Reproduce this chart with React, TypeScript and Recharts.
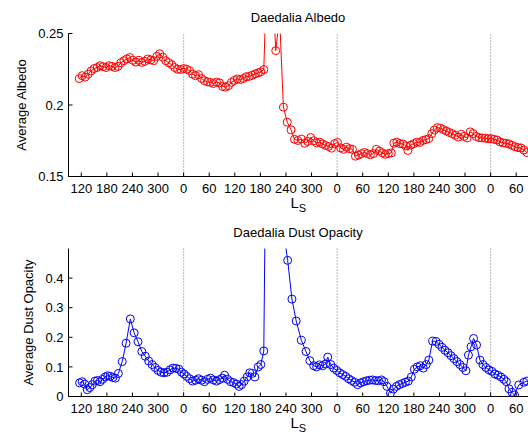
import { LineChart, Line, XAxis, YAxis, ReferenceLine } from 'recharts';

// Constants
const WIDTH = 528;
const FONT = 'Arial, "Liberation Sans", Helvetica, sans-serif';
const AXIS_COLOR = '#000';
const TICK_LEN = 4;

// Ls runs continuously over three Mars years (tick labels wrap at 360)
const xTicks = [120, 180, 240, 300, 360, 420, 480, 540, 600, 660, 720, 780, 840, 900, 960, 1020, 1080, 1140];
const yearStarts = [360, 720, 1080];
const albedoTicks = [0.15, 0.2, 0.25];
const dustTicks = [0, 0.1, 0.2, 0.3, 0.4];

const albedoLs = [
  115, 122, 129, 136, 143, 150, 157, 164, 171, 178,
  185, 192, 199, 206, 213, 220, 227, 234, 241, 248,
  255, 262, 269, 276, 283, 290, 297, 304, 311, 318,
  325, 332, 339, 346, 353, 360, 367, 374, 381, 388,
  395, 402, 409, 416, 423, 430, 437, 444, 451, 458,
  465, 472, 479, 486, 493, 500, 507, 514, 521, 528,
  535, 541, 548, 558, 568, 576, 585, 594, 603, 612,
  620, 628, 636, 644, 651, 658, 665, 672, 679, 686,
  693, 700, 707, 714, 721, 728, 735, 742, 749, 756,
  763, 770, 777, 784, 791, 798, 805, 812, 819, 826,
  833, 840, 847, 853, 860, 867, 874, 881, 886, 893,
  900, 907, 914, 921, 928, 935, 942, 948, 955, 962,
  969, 976, 983, 990, 997, 1004, 1011, 1018, 1025, 1032,
  1039, 1046, 1053, 1060, 1067, 1074, 1081, 1088, 1095, 1102,
  1109, 1116, 1123, 1130, 1137, 1144, 1151, 1158, 1165,
];
const albedoValues = [
  0.2185, 0.2205, 0.2195, 0.2215, 0.2238, 0.2255, 0.2262, 0.2275, 0.2268, 0.2262,
  0.2275, 0.2270, 0.2262, 0.2270, 0.2295, 0.2310, 0.2322, 0.2332, 0.2312, 0.2300,
  0.2312, 0.2298, 0.2305, 0.2322, 0.2315, 0.2310, 0.2340, 0.2358, 0.2335, 0.2310,
  0.2295, 0.2282, 0.2262, 0.2250, 0.2248, 0.2255, 0.2250, 0.2240, 0.2215, 0.2205,
  0.2212, 0.2185, 0.2170, 0.2162, 0.2158, 0.2150, 0.2160, 0.2155, 0.2130, 0.2125,
  0.2135, 0.2158, 0.2172, 0.2182, 0.2178, 0.2185, 0.2198, 0.2200, 0.2208, 0.2218,
  0.2225, 0.2232, 0.2248, 0.32, 0.29, 0.238, 0.262, 0.1985, 0.188, 0.1826,
  0.1760, 0.1752, 0.1762, 0.1732, 0.1745, 0.1772, 0.1750, 0.1735, 0.1740, 0.1728,
  0.1717, 0.1710, 0.1698, 0.1730, 0.1738, 0.1700, 0.1690, 0.1705, 0.1695, 0.1690,
  0.1642, 0.1650, 0.1660, 0.1668, 0.1660, 0.1652, 0.1660, 0.1690, 0.1678, 0.1665,
  0.1655, 0.1660, 0.1665, 0.1733, 0.1740, 0.1730, 0.1728, 0.1715, 0.1682, 0.1720,
  0.1730, 0.1740, 0.1738, 0.1752, 0.1758, 0.1765, 0.1800, 0.1825, 0.1842, 0.1838,
  0.1828, 0.1818, 0.1808, 0.1800, 0.1788, 0.1776, 0.1795, 0.1780, 0.1770, 0.1812,
  0.1800, 0.1780, 0.1772, 0.1770, 0.1768, 0.1764, 0.1765, 0.1760, 0.1755, 0.1742,
  0.1735, 0.1732, 0.1728, 0.1718, 0.1708, 0.1702, 0.1700, 0.1685, 0.1668,
];

const dustLs = [
  116, 122, 128, 134, 140, 146, 152, 158, 164, 170,
  176, 182, 188, 194, 200, 207, 216, 225, 235, 244,
  253, 262, 270, 278, 286, 293, 300, 307, 314, 321,
  328, 335, 342, 349, 355, 361, 367, 374, 381, 388,
  395, 402, 409, 416, 423, 430, 437, 444, 451, 456,
  463, 470, 477, 484, 490, 496, 502, 509, 515, 521,
  527, 535, 541, 548, 558, 567, 576, 585, 594, 604,
  614, 624, 636, 647, 656, 665, 672, 679, 686, 693,
  698, 705, 712, 719, 726, 733, 740, 747, 754, 761,
  768, 775, 782, 789, 796, 803, 810, 817, 824, 830,
  837, 845, 852, 859, 866, 873, 880, 887, 894, 901,
  908, 915, 922, 929, 935, 944, 952, 959, 966, 973,
  980, 987, 994, 1001, 1008, 1015, 1022, 1028, 1034, 1040,
  1047, 1055, 1062, 1069, 1076, 1083, 1090, 1097, 1104, 1111,
  1117, 1123, 1130, 1136, 1146, 1158, 1165,
];
const dustValues = [
  0.046, 0.050, 0.042, 0.023, 0.030, 0.040, 0.052, 0.054, 0.050, 0.058,
  0.066, 0.070, 0.068, 0.064, 0.062, 0.078, 0.118, 0.180, 0.262, 0.215,
  0.185, 0.152, 0.136, 0.120, 0.108, 0.098, 0.088, 0.082, 0.080, 0.082,
  0.090, 0.096, 0.095, 0.092, 0.082, 0.076, 0.068, 0.060, 0.052, 0.055,
  0.060, 0.055, 0.050, 0.058, 0.062, 0.056, 0.052, 0.057, 0.062, 0.072,
  0.058, 0.050, 0.047, 0.042, 0.034, 0.040, 0.052, 0.066, 0.080, 0.078,
  0.066, 0.100, 0.108, 0.154, 1.6, 2.0, 1.8, 1.2, 0.56, 0.460,
  0.329, 0.255, 0.190, 0.152, 0.121, 0.104, 0.100, 0.107, 0.104, 0.110,
  0.133, 0.108, 0.096, 0.088, 0.080, 0.074, 0.068, 0.060, 0.054, 0.048,
  0.040, 0.046, 0.050, 0.053, 0.055, 0.056, 0.054, 0.053, 0.056, 0.050,
  0.034, 0.011, 0.025, 0.034, 0.040, 0.044, 0.048, 0.052, 0.066, 0.092,
  0.100, 0.104, 0.096, 0.108, 0.123, 0.187, 0.186, 0.176, 0.166, 0.156,
  0.148, 0.138, 0.128, 0.118, 0.108, 0.098, 0.087, 0.140, 0.168, 0.196,
  0.174, 0.123, 0.108, 0.098, 0.090, 0.085, 0.076, 0.072, 0.066, 0.058,
  0.050, 0.026, 0.014, 0.005, 0.039, 0.048, 0.052,
];

const toPoints = (ls: number[], values: number[]) =>
  ls.map((x, i) => ({ ls: x, value: values[i] }));

// Matlab style ticks: marks point into the plot box
const BottomTick = ({ x, y, payload }: any) => (
  <g>
    <line x1={x} x2={x} y1={y} y2={y - TICK_LEN} stroke={AXIS_COLOR} />
    <text x={x} y={y + 16} textAnchor="middle" fontSize={13} fontFamily={FONT} fill="#000">
      {payload.value % 360}
    </text>
  </g>
);

const TopTick = ({ x, y }: any) => (
  <line x1={x} x2={x} y1={y} y2={y + TICK_LEN} stroke={AXIS_COLOR} />
);

const LeftTick = ({ x, y, payload }: any) => (
  <g>
    <line x1={x} x2={x + TICK_LEN} y1={y} y2={y} stroke={AXIS_COLOR} />
    <text x={x - 5} y={y} dy="0.36em" textAnchor="end" fontSize={13} fontFamily={FONT} fill="#000">
      {String(payload.value)}
    </text>
  </g>
);

const RightTick = ({ x, y }: any) => (
  <line x1={x} x2={x - TICK_LEN} y1={y} y2={y} stroke={AXIS_COLOR} />
);

interface PanelProps {
  title: string;
  yLabel: string;
  yLabelX: number;
  color: string;
  data: { ls: number; value: number }[];
  yDomain: [number, number];
  yTicks: number[];
  height: number;
  plotTop: number;
  plotBottom: number;
}

function Panel({ title, yLabel, yLabelX, color, data, yDomain, yTicks, height, plotTop, plotBottom }: PanelProps) {
  const midY = (plotTop + plotBottom) / 2;
  return (
    <div style={{ position: 'relative', width: WIDTH, height }}>
      <LineChart
        width={WIDTH}
        height={height}
        data={data}
        margin={{ top: plotTop, right: -1, bottom: 0, left: 0 }}
      >
        <XAxis
          dataKey="ls"
          type="number"
          domain={[90, 1170]}
          allowDataOverflow
          ticks={xTicks}
          interval={0}
          height={height - plotBottom}
          tickSize={0}
          tickMargin={0}
          tickLine={false}
          stroke={AXIS_COLOR}
          tick={<BottomTick />}
        />
        <XAxis
          xAxisId="top"
          orientation="top"
          type="number"
          domain={[90, 1170]}
          allowDataOverflow
          ticks={xTicks}
          interval={0}
          height={0}
          tickSize={0}
          tickMargin={0}
          tickLine={false}
          stroke={AXIS_COLOR}
          tick={<TopTick />}
        />
        <YAxis
          type="number"
          domain={yDomain}
          allowDataOverflow
          ticks={yTicks}
          interval={0}
          width={68.5}
          tickSize={0}
          tickMargin={0}
          tickLine={false}
          stroke={AXIS_COLOR}
          tick={<LeftTick />}
        />
        <YAxis
          yAxisId="right"
          orientation="right"
          type="number"
          domain={yDomain}
          allowDataOverflow
          ticks={yTicks}
          interval={0}
          width={0}
          tickSize={0}
          tickMargin={0}
          tickLine={false}
          stroke={AXIS_COLOR}
          tick={<RightTick />}
        />
        {yearStarts.map((x) => (
          <ReferenceLine key={x} x={x} stroke="#777" strokeDasharray="1 2" />
        ))}
        <Line
          dataKey="value"
          stroke={color}
          strokeWidth={1}
          dot={{ r: 4, stroke: color, strokeWidth: 1, fill: 'none' }}
          activeDot={false}
          isAnimationActive={false}
        />
      </LineChart>
      <svg
        width={WIDTH}
        height={height}
        style={{ position: 'absolute', left: 0, top: 0, pointerEvents: 'none' }}
        fontFamily={FONT}
      >
        <text x={298} y={plotTop - 12} textAnchor="middle" fontSize={13} fill="#000">
          {title}
        </text>
        <text
          transform={`translate(${yLabelX},${midY}) rotate(-90)`}
          textAnchor="middle"
          fontSize={13}
          fill="#000"
        >
          {yLabel}
        </text>
        <text x={290.5} y={plotBottom + 31.5} fontSize={15} fill="#000">
          L<tspan fontSize={11} dy={4}>S</tspan>
        </text>
      </svg>
    </div>
  );
}

export default function App() {
  return (
    <div
      style={{
        position: 'absolute',
        left: 0,
        top: 0,
        width: WIDTH,
        height: 437,
        background: '#fff',
        fontFamily: FONT,
      }}
    >
      <Panel
        title="Daedalia Albedo"
        yLabel="Average Albedo"
        yLabelX={26}
        color="#ff0000"
        data={toPoints(albedoLs, albedoValues)}
        yDomain={[0.15, 0.25]}
        yTicks={albedoTicks}
        height={215}
        plotTop={33.5}
        plotBottom={176.5}
      />
      <Panel
        title="Daedalia Dust Opacity"
        yLabel="Average Dust Opacity"
        yLabelX={33}
        color="#0000ff"
        data={toPoints(dustLs, dustValues)}
        yDomain={[0, 0.5]}
        yTicks={dustTicks}
        height={222}
        plotTop={33.5}
        plotBottom={181.5}
      />
    </div>
  );
}
